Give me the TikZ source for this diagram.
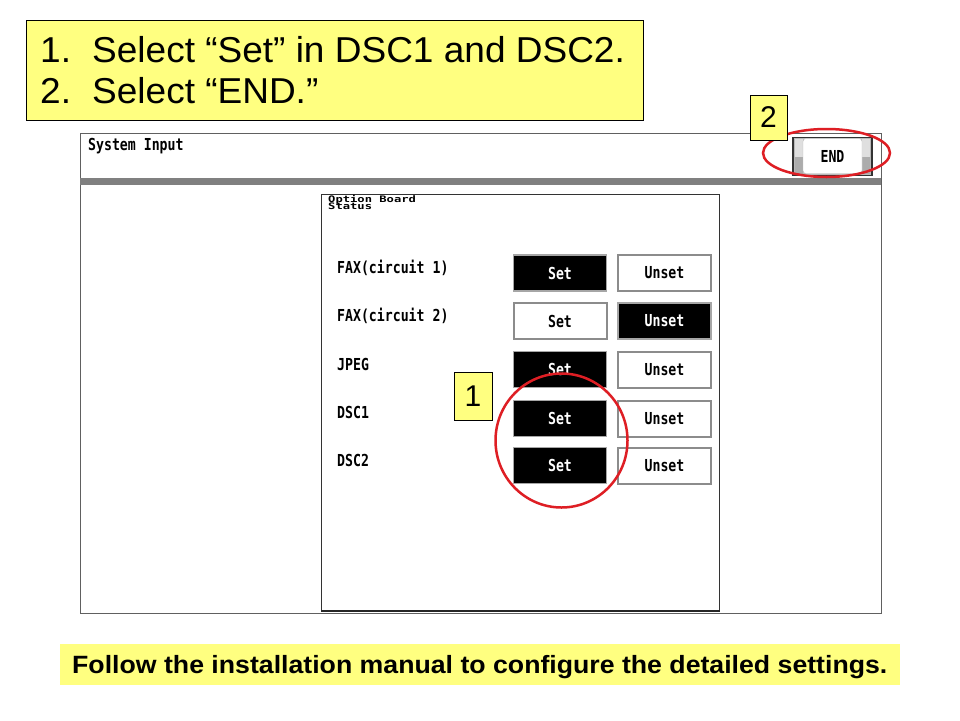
\documentclass[tikz,border=0pt]{standalone}
\usepackage{fontspec}
\setmainfont{Liberation Sans}
\newfontfamily\monof{DejaVu Sans Mono}
\usetikzlibrary{shapes.geometric}
\definecolor{noteyellow}{RGB}{255,255,128}
\definecolor{ringred}{RGB}{222,30,36}
\definecolor{bargray}{RGB}{128,128,128}
\newcommand{\scr}[1]{\scalebox{0.8}[1]{\fontsize{16.5}{16.5}\selectfont\monof\bfseries #1}}
\newcommand{\scrsmall}[1]{\scalebox{1.35}[1]{\fontsize{9}{9}\selectfont\monof\bfseries #1}}
\newcommand{\bigtxt}[1]{\scalebox{1.028}[1]{\fontsize{36}{36}\selectfont #1}}
\begin{document}
\begin{tikzpicture}[x=1pt,y=-1pt,
  note/.style={draw=black, line width=0.8pt, fill=noteyellow, inner sep=0pt},
  numbox/.style={draw=black, line width=0.8pt, fill=noteyellow, inner sep=0pt, font=\fontsize{30}{30}\selectfont},
  setbtn/.style={draw=gray!70, line width=1.5pt, fill=black, text=white, inner sep=0pt, minimum width=93pt, minimum height=36pt},
  unsetbtn/.style={draw=gray!90, line width=2pt, fill=white, text=black, inner sep=0pt, minimum width=93pt, minimum height=36pt},
  rowlabel/.style={anchor=west, inner sep=0pt},
  plain/.style={inner sep=0pt},
  ring/.style={draw=ringred, line width=2.5pt, ellipse, inner sep=0pt}
]
\useasboundingbox[fill=white] (0,0) rectangle (960,720);

% instruction box
\node[note, anchor=north west, minimum width=617pt, minimum height=100pt] (steps) at (26,20) {};
\node[plain, anchor=base west] (s1num) at (40,62) {\bigtxt{1.}};
\node[plain, anchor=base west] (s1) at (92,62) {\bigtxt{Select “Set” in DSC1 and DSC2.}};
\node[plain, anchor=base west] (s2num) at (40,103) {\bigtxt{2.}};
\node[plain, anchor=base west] (s2) at (92,103) {\bigtxt{Select “END.”}};

% screen
\node[draw=gray!75!black, line width=1.2pt, fill=white, anchor=north west, minimum width=801pt, minimum height=480pt, inner sep=0pt] (screen) at (80,133) {};
\fill[bargray] (80,178) rectangle (881,185);
\node[rowlabel] (title) at (88,146) {\scr{System Input}};

% END button
\node[draw=black!80, line width=1.5pt, fill=gray!55, minimum width=79pt, minimum height=38pt, inner sep=0pt] (endbtn) at (832.5,156.5) {};
\fill[gray!25] (795,139) rectangle (803,157);
\fill[gray!65] (795,157) rectangle (803,174);
\fill[gray!25] (862,139) rectangle (870,157);
\fill[gray!65] (862,157) rectangle (870,174);
\node[fill=white, draw=gray!50, rounded corners=3pt, minimum width=59pt, minimum height=35pt, inner sep=0pt] (endface) at (832.5,156) {\scr{END}};

% inner panel
\node[draw=black!80, line width=1.2pt, fill=white, anchor=north west, minimum width=398pt, minimum height=416pt, inner sep=0pt] (panel) at (321,194) {};
\draw[line width=2.2pt, black!85] (panel.south west) -- (panel.south east);
\node[rowlabel] (opt1) at (328,199.5) {\scrsmall{Option Board}};
\node[rowlabel] (opt2) at (328,206.5) {\scrsmall{Status}};

% rows
\node[rowlabel] (l1) at (337,268) {\scr{FAX(circuit 1)}};
\node[setbtn] (set1) at (560,273) {\scr{Set}};
\node[unsetbtn] (uns1) at (664.5,273) {\scr{Unset}};

\node[rowlabel] (l2) at (337,316) {\scr{FAX(circuit 2)}};
\node[unsetbtn] (set2) at (560,321) {\scr{Set}};
\node[setbtn] (uns2) at (664.5,321) {\scr{Unset}};

\node[rowlabel] (l3) at (337,364) {\scr{JPEG}};
\node[setbtn] (set3) at (560,369.5) {\scr{Set}};
\node[unsetbtn] (uns3) at (664.5,369.5) {\scr{Unset}};

\node[rowlabel] (l4) at (337,412) {\scr{DSC1}};
\node[setbtn] (set4) at (560,418.5) {\scr{Set}};
\node[unsetbtn] (uns4) at (664.5,418.5) {\scr{Unset}};

\node[rowlabel] (l5) at (337,460) {\scr{DSC2}};
\node[setbtn] (set5) at (560,465.5) {\scr{Set}};
\node[unsetbtn] (uns5) at (664.5,465.5) {\scr{Unset}};

% callouts
\node[ring, minimum width=132pt, minimum height=134pt] (ring1) at (561.5,440.5) {};
\node[ring, minimum width=127pt, minimum height=48pt] (ring2) at (826.5,153) {};
\node[numbox, minimum width=38pt, minimum height=48pt] (n1) at (473,396) {1};
\node[numbox, minimum width=37pt, minimum height=45pt] (n2) at (768.5,117.5) {2};

% footer
\node[fill=noteyellow, anchor=north west, minimum width=840pt, minimum height=41pt, inner sep=0pt] (footer) at (60,644) {};
\node[plain, anchor=base west] (foottext) at (72,673) {\scalebox{1.067}[1]{\fontsize{25}{25}\selectfont\bfseries Follow the installation manual to configure the detailed settings.}};
\end{tikzpicture}
\end{document}
